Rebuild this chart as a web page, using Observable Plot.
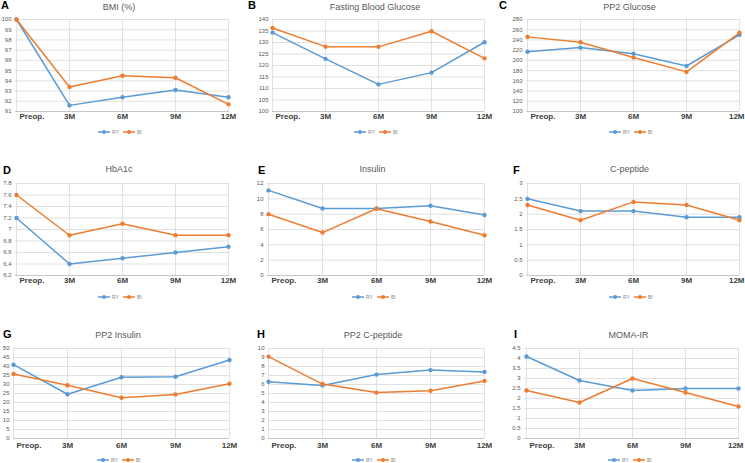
<!DOCTYPE html>
<html><head><meta charset="utf-8">
<script src="https://cdn.jsdelivr.net/npm/d3@7"></script>
<script src="https://cdn.jsdelivr.net/npm/@observablehq/plot@0.6"></script>
<style>
body{margin:0;background:#fff;}
#wrap{position:relative;width:745px;height:463px;overflow:hidden;font-family:"Liberation Sans",Arial,sans-serif;background:#fff;}
.panel{position:absolute;}
.title{position:absolute;font-size:9px;color:#595959;white-space:nowrap;transform:translate(-50%,-50%);}
.letter{position:absolute;font-size:11px;font-weight:bold;color:#000;line-height:1;}
.legend{position:absolute;transform:translateY(-50%);}
</style>
</head><body><div id="wrap"></div>
<script>
const categories = ["Preop.", "3M", "6M", "9M", "12M"];
const seriesNames = ["RY", "BI"];
const seriesColors = ["#5B9BD5", "#ED7D31"];

const bmiRY = [100, 91.6, 92.4, 93.1, 92.4];
const bmiBI = [100, 93.4, 94.5, 94.3, 91.7];
const bmiTicks = [91, 92, 93, 94, 95, 96, 97, 98, 99, 100];

const fbgRY = [134.3, 122.9, 111.8, 116.9, 130.1];
const fbgBI = [136.3, 128.2, 128.1, 134.9, 123.1];
const fbgTicks = [100, 105, 110, 115, 120, 125, 130, 135, 140];

const pp2gRY = [217, 225, 213, 189, 250];
const pp2gBI = [246, 235.5, 205.5, 177.5, 254];
const pp2gTicks = [100, 120, 140, 160, 180, 200, 220, 240, 260, 280];

const hba1cRY = [7.2, 6.4, 6.5, 6.6, 6.7];
const hba1cBI = [7.6, 6.9, 7.1, 6.9, 6.9];
const hba1cTicks = [6.2, 6.4, 6.6, 6.8, 7, 7.2, 7.4, 7.6, 7.8];

const insRY = [11.1, 8.75, 8.75, 9.1, 7.9];
const insBI = [8.0, 5.6, 8.7, 7.05, 5.25];
const insTicks = [0, 2, 4, 6, 8, 10, 12];

const cpepRY = [2.5, 2.1, 2.1, 1.9, 1.9];
const cpepBI = [2.3, 1.8, 2.4, 2.3, 1.8];
const cpepTicks = [0, 0.5, 1, 1.5, 2, 2.5, 3];

const pp2iRY = [41, 24.6, 34, 34.3, 43.6];
const pp2iBI = [35.8, 29.6, 22.6, 24.5, 30.4];
const pp2iTicks = [0, 5, 10, 15, 20, 25, 30, 35, 40, 45, 50];

const pp2cRY = [6.3, 5.9, 7.1, 7.6, 7.4];
const pp2cBI = [9.1, 6.05, 5.1, 5.3, 6.4];
const pp2cTicks = [0, 1, 2, 3, 4, 5, 6, 7, 8, 9, 10];

const homaRY = [4.1, 2.9, 2.4, 2.5, 2.5];
const homaBI = [2.4, 1.8, 3.0, 2.3, 1.6];
const homaTicks = [0, 0.5, 1, 1.5, 2, 2.5, 3, 3.5, 4, 4.5];

// layout
const cols = [
  {left: 0, width: 248, right: 229, lastEnd: false},
  {left: 248, width: 248, right: 484, lastEnd: false},
  {left: 496, width: 249, right: 739, lastEnd: true}
];
const rows = [
  {top: 0, height: 130, plotTop: 19, plotBottom: 111, titleY: 7, letterTop: 0, legendY: 132, xpad: 2},
  {top: 152, height: 142, plotTop: 183, plotBottom: 275, titleY: 169, letterTop: 165, legendY: 297, xpad: 2},
  {top: 305, height: 152, plotTop: 348, plotBottom: 438, titleY: 335, letterTop: 329, legendY: 460, xpad: 4}
];

const panels = [
  {letter: "A", title: "BMI (%)", ry: bmiRY, bi: bmiBI, ticks: bmiTicks, r: 0, c: 0, plotLeft: 15, letterX: 1},
  {letter: "B", title: "Fasting Blood Glucose", ry: fbgRY, bi: fbgBI, ticks: fbgTicks, r: 0, c: 1, plotLeft: 272, letterX: 248},
  {letter: "C", title: "PP2 Glucose", ry: pp2gRY, bi: pp2gBI, ticks: pp2gTicks, r: 0, c: 2, plotLeft: 526, letterX: 499},
  {letter: "D", title: "HbA1c", ry: hba1cRY, bi: hba1cBI, ticks: hba1cTicks, r: 1, c: 0, plotLeft: 15, letterX: 3},
  {letter: "E", title: "Insulin", ry: insRY, bi: insBI, ticks: insTicks, r: 1, c: 1, plotLeft: 267, letterX: 258},
  {letter: "F", title: "C-peptide", ry: cpepRY, bi: cpepBI, ticks: cpepTicks, r: 1, c: 2, plotLeft: 526, letterX: 513},
  {letter: "G", title: "PP2 Insulin", ry: pp2iRY, bi: pp2iBI, ticks: pp2iTicks, r: 2, c: 0, plotLeft: 13, letterX: 3},
  {letter: "H", title: "PP2 C-peptide", ry: pp2cRY, bi: pp2cBI, ticks: pp2cTicks, r: 2, c: 1, plotLeft: 268, letterX: 257},
  {letter: "I", title: "MOMA-IR", ry: homaRY, bi: homaBI, ticks: homaTicks, r: 2, c: 2, plotLeft: 524, letterX: 514}
];

const wrap = document.getElementById("wrap");
const font = '"Liberation Sans", Arial, sans-serif';

function legendSVG() {
  const ns = "http://www.w3.org/2000/svg";
  const svg = document.createElementNS(ns, "svg");
  svg.setAttribute("width", 48); svg.setAttribute("height", 8);
  svg.style.display = "block";
  const offs = [0, 25];
  seriesNames.forEach((name, i) => {
    const x0 = offs[i];
    const l = document.createElementNS(ns, "line");
    l.setAttribute("x1", x0); l.setAttribute("x2", x0 + 12);
    l.setAttribute("y1", 4); l.setAttribute("y2", 4);
    l.setAttribute("stroke", seriesColors[i]); l.setAttribute("stroke-width", 1.5);
    svg.appendChild(l);
    const c = document.createElementNS(ns, "circle");
    c.setAttribute("cx", x0 + 6); c.setAttribute("cy", 4); c.setAttribute("r", 2);
    c.setAttribute("fill", seriesColors[i]);
    svg.appendChild(c);
    const t = document.createElementNS(ns, "text");
    t.setAttribute("x", x0 + 14); t.setAttribute("y", 6);
    t.setAttribute("font-size", 5); t.setAttribute("fill", "#7f7f7f");
    t.setAttribute("font-family", font);
    t.textContent = name;
    svg.appendChild(t);
  });
  return svg;
}

panels.forEach(p => {
  const col = cols[p.c], row = rows[p.r];
  const data = categories.flatMap((cat, i) => [
    {cat, v: p.ry[i], s: seriesNames[0]},
    {cat, v: p.bi[i], s: seriesNames[1]}
  ]);
  const ticks = p.ticks;
  const xText = {tickSize: 0, tickPadding: row.xpad, fontSize: 8, fontWeight: "bold", fill: "#404040"};
  const last = categories[categories.length - 1];
  const middle = col.lastEnd ? categories.slice(1, -1) : categories.slice(1);
  const xAxes = [
    Plot.axisX([categories[0]], {...xText, textAnchor: "start", dx: 3}),
    Plot.axisX(middle, xText)
  ];
  if (col.lastEnd) xAxes.push(Plot.axisX([last], {...xText, textAnchor: "end", dx: 5}));
  const chart = Plot.plot({
    width: col.width,
    height: row.height,
    marginLeft: p.plotLeft - col.left,
    marginRight: col.left + col.width - col.right,
    marginTop: row.plotTop - row.top,
    marginBottom: row.top + row.height - row.plotBottom,
    style: {fontFamily: font, background: "transparent"},
    x: {type: "point", domain: categories, padding: 0, label: null},
    y: {domain: [ticks[0], ticks[ticks.length - 1]], label: null},
    color: {domain: seriesNames, range: seriesColors},
    marks: [
      Plot.gridY(ticks, {stroke: "#d9d9d9", strokeOpacity: 1, strokeWidth: 0.8}),
      Plot.gridX(categories, {stroke: "#d9d9d9", strokeOpacity: 1, strokeWidth: 0.8}),
      Plot.ruleY([ticks[0]], {stroke: "#bfbfbf", strokeWidth: 0.8}),
      Plot.axisY(ticks, {tickSize: 0, tickPadding: 4, fontSize: 6, fill: "#595959", tickFormat: d => String(d)}),
      ...xAxes,
      Plot.line(data, {x: "cat", y: "v", stroke: "s", strokeWidth: 1.5}),
      Plot.dot(data, {x: "cat", y: "v", fill: "s", r: 2.2})
    ]
  });
  chart.classList.add("panel");
  chart.style.left = col.left + "px";
  chart.style.top = row.top + "px";
  wrap.appendChild(chart);

  const center = (p.plotLeft + col.right) / 2;
  const title = document.createElement("div");
  title.className = "title";
  title.textContent = p.title;
  title.style.left = (center - 3) + "px";
  title.style.top = row.titleY + "px";
  wrap.appendChild(title);

  const letter = document.createElement("div");
  letter.className = "letter";
  letter.textContent = p.letter;
  letter.style.left = p.letterX + "px";
  letter.style.top = row.letterTop + "px";
  wrap.appendChild(letter);

  const leg = document.createElement("div");
  leg.className = "legend";
  leg.style.left = (center - 24) + "px";
  leg.style.top = row.legendY + "px";
  leg.appendChild(legendSVG());
  wrap.appendChild(leg);
});
</script>
</body></html>
